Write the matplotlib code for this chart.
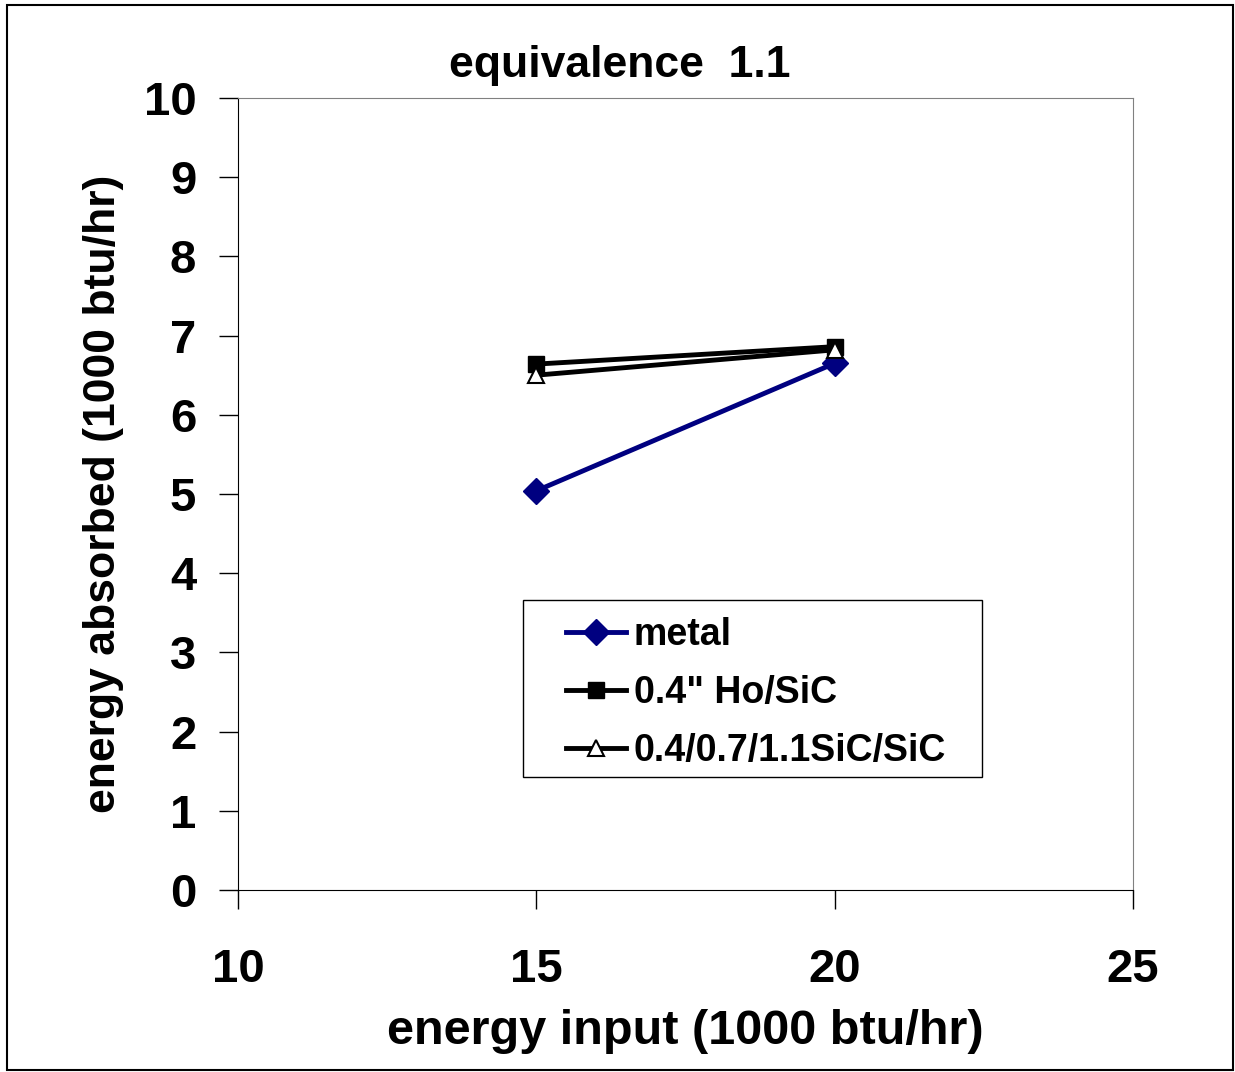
import matplotlib.pyplot as plt
from matplotlib.patches import Rectangle

plt.rcParams['font.family'] = ['Liberation Sans', 'DejaVu Sans']
plt.rcParams['font.weight'] = 'bold'

x_vals = [15, 20]
metal = [5.04, 6.65]
ho_sic = [6.64, 6.86]
sic_sic = [6.50, 6.82]
labels = ['metal', '0.4" Ho/SiC', '0.4/0.7/1.1SiC/SiC']

fig = plt.figure(figsize=(12.35, 10.72), dpi=100)
ax = fig.add_axes([0.1927, 0.1698, 0.7247, 0.7388])

ax.plot(x_vals, metal, color='#000080', lw=3.5, marker='D', ms=13, label=labels[0])
ax.plot(x_vals, ho_sic, color='black', lw=3.5, marker='s', ms=12, label=labels[1])
ax.plot(x_vals, sic_sic, color='black', lw=3.5, marker='^', ms=12,
        mfc='white', mec='black', mew=1.5, label=labels[2])

ax.set_xlim(10, 25)
ax.set_ylim(0, 10)
ax.set_xticks([10, 15, 20, 25])
ax.set_yticks(range(0, 11))
ax.tick_params(direction='out', length=14, width=1, labelsize=34)
ax.tick_params(axis='y', pad=16)
ax.tick_params(axis='x', pad=28)
for lbl in ax.get_xticklabels() + ax.get_yticklabels():
    lbl.set_fontweight('bold')

ax.spines['top'].set_color('#808080')
ax.spines['right'].set_color('#808080')

fig.text(0.502, 0.939, 'equivalence  1.1', fontsize=32, fontweight='bold',
         ha='center', va='center')
ax.set_xlabel('energy input (1000 btu/hr)', fontsize=35, fontweight='bold', labelpad=12)
ax.set_ylabel('energy absorbed (1000 btu/hr)', fontsize=32, fontweight='bold', labelpad=14)

# legend box drawn separately, entries placed inside it
ax.add_patch(Rectangle((0.3184, 0.1427), 0.5129, 0.2235, transform=ax.transAxes,
                       fill=False, edgecolor='black', lw=1, zorder=4))
leg = ax.legend(loc='upper left', bbox_to_anchor=(0.3665, 0.3444), fontsize=27,
                frameon=False, handlelength=1.6, borderpad=0, labelspacing=0.58,
                handletextpad=0.2, borderaxespad=0)
for t in leg.get_texts():
    t.set_fontweight('bold')

fig.patches.append(Rectangle((0.006, 0.002), 0.992, 0.993, transform=fig.transFigure,
                             fill=False, edgecolor='black', lw=1.5))

fig.savefig('out.png', dpi=100)
